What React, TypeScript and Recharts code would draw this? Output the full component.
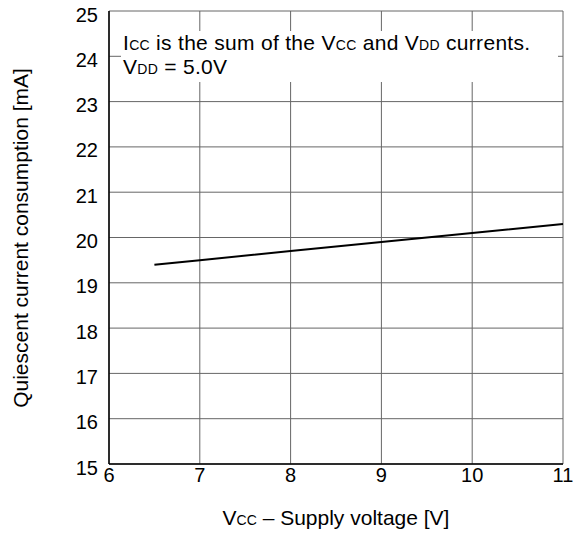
import React from 'react';
import { LineChart, Line, XAxis, YAxis, CartesianGrid } from 'recharts';

// Vcc supply voltage [V]
const vcc = [6.5, 7, 8, 9, 10, 11];
// quiescent current [mA]
const icc = [19.4, 19.5, 19.7, 19.9, 20.1, 20.3];

const xTicks = [6, 7, 8, 9, 10, 11];
const yTicks = [15, 16, 17, 18, 19, 20, 21, 22, 23, 24, 25];

const FONT = 'Arial, "Liberation Sans", sans-serif';
const SMALL = 14;

const data = vcc.map((v, i) => ({ vcc: v, icc: icc[i] }));

const XTick = (props: any) => {
  const { x, payload } = props;
  return (
    <text x={x} y={482} textAnchor="middle" fontSize={20} fontFamily={FONT} fill="#000">
      {payload.value}
    </text>
  );
};

const YTick = (props: any) => {
  const { y, payload } = props;
  return (
    <text x={98} y={y + 10.5} textAnchor="end" fontSize={20} fontFamily={FONT} fill="#000">
      {payload.value}
    </text>
  );
};

export default function App() {
  return (
    <div style={{ position: 'absolute', left: 0, top: 0, width: 573, height: 536, background: '#fff' }}>
      <LineChart
        width={573}
        height={536}
        data={data}
        margin={{ top: 11, right: 10, bottom: 12, left: 0 }}
      >
        <CartesianGrid stroke="#666" strokeWidth={1} />
        <XAxis
          dataKey="vcc"
          type="number"
          domain={[6, 11]}
          ticks={xTicks}
          height={60}
          tickLine={false}
          axisLine={{ stroke: '#000', strokeWidth: 1.5 }}
          tick={<XTick />}
          label={{
            content: () => (
              <text x={336} y={525} textAnchor="middle" fontSize={21} fontFamily={FONT} fill="#000">
                V<tspan fontSize={SMALL}>CC</tspan> – Supply voltage [V]
              </text>
            ),
          }}
        />
        <XAxis xAxisId="top" orientation="top" type="number" domain={[6, 11]} height={0} tick={false} tickLine={false} axisLine={{ stroke: '#000', strokeWidth: 1.5 }} />
        <YAxis
          type="number"
          domain={[15, 25]}
          ticks={yTicks}
          width={109}
          tickLine={false}
          axisLine={{ stroke: '#000', strokeWidth: 1.5 }}
          tick={<YTick />}
          label={{
            content: () => (
              <text
                x={28}
                y={238}
                transform="rotate(-90 28 238)"
                textAnchor="middle"
                fontSize={21}
                fontFamily={FONT}
                fill="#000"
              >
                Quiescent current consumption [mA]
              </text>
            ),
          }}
        />
        <YAxis yAxisId="right" orientation="right" type="number" domain={[15, 25]} width={0} tick={false} tickLine={false} axisLine={{ stroke: '#000', strokeWidth: 1.5 }} />
        <Line
          type="linear"
          dataKey="icc"
          stroke="#000"
          strokeWidth={2}
          dot={false}
          isAnimationActive={false}
        />
      </LineChart>
      <div
        style={{
          position: 'absolute',
          left: 121,
          top: 31,
          width: 437,
          height: 51,
          background: '#fff',
          fontFamily: FONT,
          fontSize: 21,
          lineHeight: '21px',
          letterSpacing: '0.3px',
          color: '#000',
          paddingLeft: 2,
          paddingTop: 1,
          boxSizing: 'border-box',
          whiteSpace: 'nowrap',
        }}
      >
        <div>
          I<span style={{ fontSize: SMALL }}>CC</span> is the sum of the V<span style={{ fontSize: SMALL }}>CC</span> and V
          <span style={{ fontSize: SMALL }}>DD</span> currents.
        </div>
        <div>
          V<span style={{ fontSize: SMALL }}>DD</span> = 5.0V
        </div>
      </div>
    </div>
  );
}
